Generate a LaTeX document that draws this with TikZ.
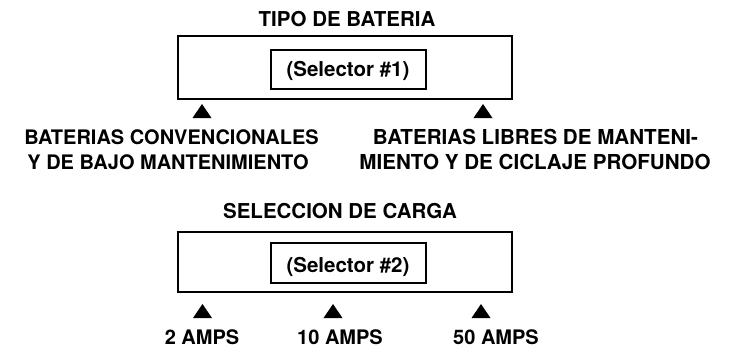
\documentclass[tikz,border=0pt]{standalone}
\usepackage{fontspec}
\setmainfont{TeX Gyre Heros}
\tikzset{
  frame/.style={draw, line width=2pt, inner sep=0pt},
  ttl/.style={font=\fontsize{20.5}{24}\selectfont\bfseries, inner sep=0pt, anchor=base},
  lbl/.style={font=\fontsize{20}{24}\selectfont\bfseries, inner sep=0pt, anchor=base},
  lblw/.style={font=\fontsize{20.6}{24}\selectfont\bfseries, inner sep=0pt, anchor=base},
  sel/.style={font=\fontsize{20.5}{24}\selectfont\bfseries, inner sep=0pt, anchor=base},
}
\newcommand{\marker}[1]{\fill (#1) -- ++(-9.5,14) -- ++(19,0) -- cycle;}
\begin{document}
\begin{tikzpicture}[x=1pt,y=-1pt]
\useasboundingbox (0,0) rectangle (731,349);
% --- top ---
\node[ttl] (t1) at (347,26) {TIPO DE BATERIA};
\node[frame, minimum width=334pt, minimum height=63pt] (box1) at (345,67.5) {};
\node[frame, minimum width=155pt, minimum height=39.5pt] (in1) at (348,69.5) {};
\node[sel] (s1) at (348,76) {(Selector \#1)};
\coordinate (m1) at (202,104);
\coordinate (m2) at (483,104);
\marker{m1}
\marker{m2}
\node[lbl] (a1) at (171.5,144) {BATERIAS CONVENCIONALES};
\node[lbl] (a2) at (168,169) {Y DE BAJO MANTENIMIENTO};
\node[lblw] (b1) at (535.5,144) {BATERIAS LIBRES DE MANTENI-};
\node[lblw] (b2) at (535,169) {MIENTO Y DE CICLAJE PROFUNDO};
% --- bottom ---
\node[ttl] (t2) at (340,218) {SELECCION DE CARGA};
\node[frame, minimum width=334pt, minimum height=60pt] (box2) at (345,262) {};
\node[frame, minimum width=155pt, minimum height=40pt] (in2) at (348.5,263) {};
\node[sel] (s2) at (348,272) {(Selector \#2)};
\coordinate (m3) at (202.5,304);
\coordinate (m4) at (333,304);
\coordinate (m5) at (481,304);
\marker{m3}
\marker{m4}
\marker{m5}
\node[lbl] (c1) at (202,344) {2 AMPS};
\node[lbl] (c2) at (340,344) {10 AMPS};
\node[lbl] (c3) at (496,344) {50 AMPS};
\end{tikzpicture}
\end{document}
